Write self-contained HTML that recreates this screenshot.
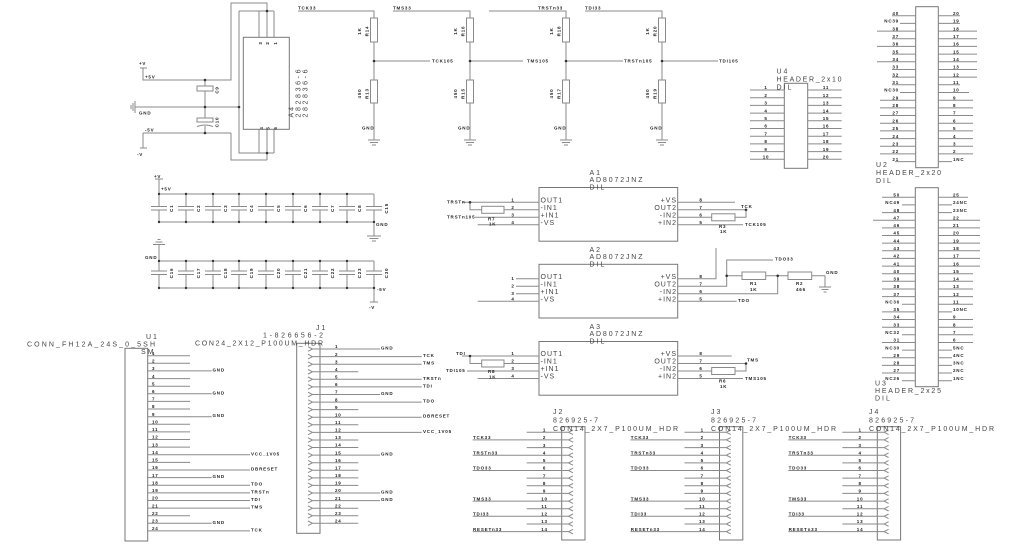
<!DOCTYPE html>
<html><head><meta charset="utf-8"><style>
body{margin:0;background:#fff}
svg{display:block}
.w{stroke:#8a8a8a;stroke-width:1;fill:none}
.k{stroke:#777;stroke-width:1;fill:none}
.d{fill:#333}
.s{font-family:"Liberation Sans",sans-serif;font-size:4.5px;font-weight:bold;fill:#222;letter-spacing:.8px}
.t{font-family:"Liberation Sans",sans-serif;font-size:7px;fill:#444;letter-spacing:2px}
.m{text-anchor:middle}
.e{text-anchor:end}
</style></head><body>
<svg width="1024" height="544" viewBox="0 0 1024 544" xmlns="http://www.w3.org/2000/svg">
<rect width="1024" height="544" fill="#fff"/>

<!-- Section 1: A4 power -->
<path class="w" d="M140,68H147M143,68V80H231V3H267V37M239,11H274M259,11V37M267,11V37M274,11V37M239,11V153H274M259,129V153M267,129V160M274,129V153M231,133V160H267M143,133H231M143,133V148M140,148H147M135,107H239M135,101V113M133,103V111M131,105V109M205,80V86M205,91V118M205,126V133M197,126.5Q205,123.5 213,126.5"/>
<rect class="w" x="197" y="86" width="16" height="5"/>
<rect class="w" x="197" y="118" width="16" height="4"/>
<rect class="k" x="243.3" y="37.3" width="46" height="92"/>
<g class="d"><circle cx="205" cy="80" r="1.3"/><circle cx="205" cy="107" r="1.3"/><circle cx="205" cy="133" r="1.3"/><circle cx="239" cy="107" r="1.3"/><circle cx="267" cy="11" r="1.3"/><circle cx="267" cy="153" r="1.3"/></g>
<g class="s">
<text x="139" y="65">+V</text><text x="145" y="78.5">+5V</text><text x="139" y="114.5">GND</text><text x="145" y="131.5">-5V</text><text x="137" y="156">-V</text>
<text class="m" transform="translate(218.5,90) rotate(-90)">C9</text>
<text class="m" transform="translate(218.5,122) rotate(-90)">C10</text>
<text class="m" transform="translate(262,43) rotate(-90)">3</text>
<text class="m" transform="translate(269,43) rotate(-90)">2</text>
<text class="m" transform="translate(277,43) rotate(-90)">1</text>
<text class="m" transform="translate(263,128) rotate(-90)">4</text>
<text class="m" transform="translate(269.5,128) rotate(-90)">5</text>
<text class="m" transform="translate(277,128) rotate(-90)">6</text>
</g>
<g class="t">
<text transform="translate(293.5,117.5) rotate(-90)">A4</text>
<text transform="translate(300.5,117.5) rotate(-90)" textLength="50">282836-6</text>
<text transform="translate(307.5,117.5) rotate(-90)" textLength="50">282836-6</text>
</g>

<!-- Section 2: resistor dividers -->
<path class="w" d="M298,11H374V18M374,42V80M374,103V140M368,140H380M370,142.5H378M372,145H376M374,61H430
M393,11H470V18M470,42V80M470,103V140M464,140H476M466,142.5H474M468,145H472M470,61H523
M489,11H566V18M566,42V80M566,103V140M560,140H572M562,142.5H570M564,145H568M566,61H623
M585,11H662V18M662,42V80M662,103V140M656,140H668M658,142.5H666M660,145H664M662,61H718"/>
<g class="w"><rect x="370.5" y="18" width="7" height="24"/><rect x="370.5" y="80" width="7" height="23"/><rect x="466.5" y="18" width="7" height="24"/><rect x="466.5" y="80" width="7" height="23"/><rect x="562.5" y="18" width="7" height="24"/><rect x="562.5" y="80" width="7" height="23"/><rect x="658.5" y="18" width="7" height="24"/><rect x="658.5" y="80" width="7" height="23"/></g>
<g class="d"><circle cx="374" cy="61" r="1.3"/><circle cx="470" cy="61" r="1.3"/><circle cx="566" cy="61" r="1.3"/><circle cx="662" cy="61" r="1.3"/></g>
<g class="s">
<text x="298" y="9.5">TCK33</text><text x="393" y="9.5">TMS33</text><text x="538" y="9.5">TRSTn33</text><text x="585" y="9.5">TDI33</text>
<text x="432" y="62.5">TCK105</text><text x="527" y="62.5">TMS105</text><text x="624" y="62.5">TRSTn105</text><text x="719" y="62.5">TDI105</text>
<text x="362" y="129.5">GND</text><text x="458" y="129.5">GND</text><text x="554" y="129.5">GND</text><text x="650" y="129.5">GND</text>
<text class="m" transform="translate(361,31) rotate(-90)">1K</text><text class="m" transform="translate(368.5,31) rotate(-90)">R14</text>
<text class="m" transform="translate(361,93.5) rotate(-90)">450</text><text class="m" transform="translate(368.5,93.5) rotate(-90)">R13</text>
<text class="m" transform="translate(457,31) rotate(-90)">1K</text><text class="m" transform="translate(464.5,31) rotate(-90)">R16</text>
<text class="m" transform="translate(457,93.5) rotate(-90)">450</text><text class="m" transform="translate(464.5,93.5) rotate(-90)">R15</text>
<text class="m" transform="translate(553,31) rotate(-90)">1K</text><text class="m" transform="translate(560.5,31) rotate(-90)">R18</text>
<text class="m" transform="translate(553,93.5) rotate(-90)">450</text><text class="m" transform="translate(560.5,93.5) rotate(-90)">R17</text>
<text class="m" transform="translate(649,31) rotate(-90)">1K</text><text class="m" transform="translate(656.5,31) rotate(-90)">R20</text>
<text class="m" transform="translate(649,93.5) rotate(-90)">450</text><text class="m" transform="translate(656.5,93.5) rotate(-90)">R19</text>
</g>

<!-- Section 3: U4 -->
<rect class="k" x="784.3" y="83.3" width="23.4" height="85"/>
<path class="w" d="M750,90H784.3M750,97.7H784.3M750,105.4H784.3M750,113.1H784.3M750,120.8H784.3M750,128.5H784.3M750,136.2H784.3M750,143.9H784.3M750,151.6H784.3M750,159.3H784.3M807.7,90H841.7M807.7,97.7H841.7M807.7,105.4H841.7M807.7,113.1H841.7M807.7,120.8H841.7M807.7,128.5H841.7M807.7,136.2H841.7M807.7,143.9H841.7M807.7,151.6H841.7M807.7,159.3H841.7"/>
<g class="s m">
<text x="766" y="89.2">1</text><text x="766" y="96.9">2</text><text x="766" y="104.6">3</text><text x="766" y="112.3">4</text><text x="766" y="120">5</text><text x="766" y="127.7">6</text><text x="766" y="135.4">7</text><text x="766" y="143.1">8</text><text x="766" y="150.8">9</text><text x="766" y="158.5">10</text>
<text x="826" y="89.2">11</text><text x="826" y="96.9">12</text><text x="826" y="104.6">13</text><text x="826" y="112.3">14</text><text x="826" y="120">15</text><text x="826" y="127.7">16</text><text x="826" y="135.4">17</text><text x="826" y="143.1">18</text><text x="826" y="150.8">19</text><text x="826" y="158.5">20</text>
</g>
<g class="t"><text x="776.5" y="73.5">U4</text><text x="776.5" y="81.5" textLength="67">HEADER_2x10</text><text x="776.5" y="89.5">DIL</text></g>

<!-- U2 -->
<rect class="k" x="915.7" y="6.7" width="22.6" height="161"/>
<path class="w" d="M892,15.7H915.7M900,23.4H915.7M877,31.1H915.7M892,38.7H915.7M877,46.4H915.7M892,54.1H915.7M877,61.8H915.7M892,69.5H915.7M892,77.1H915.7M892,84.8H915.7M900,92.5H915.7M880,100.2H915.7M880,107.9H915.7M880,115.5H915.7M880,123.2H915.7M880,130.9H915.7M880,138.6H915.7M880,146.3H915.7M880,153.9H915.7M895,161.6H915.7
M938.3,15.7H960M938.3,23.4H960M938.3,31.1H977M938.3,38.7H977M938.3,46.4H977M938.3,54.1H977M938.3,61.8H977M938.3,69.5H977M938.3,77.1H977M938.3,84.8H960M938.3,92.5H969M938.3,100.2H973M938.3,107.9H973M938.3,115.5H973M938.3,123.2H973M938.3,130.9H973M938.3,138.6H973M938.3,146.3H973M938.3,153.9H973M938.3,161.6H952"/>
<g class="s e">
<text x="899" y="14.9">40</text><text x="899" y="22.6">NC39</text><text x="899" y="30.3">38</text><text x="899" y="37.9">37</text><text x="899" y="45.6">36</text><text x="899" y="53.3">35</text><text x="899" y="61">34</text><text x="899" y="68.7">33</text><text x="899" y="76.3">32</text><text x="899" y="84">31</text><text x="899" y="91.7">NC30</text><text x="899" y="99.4">29</text><text x="899" y="107.1">28</text><text x="899" y="114.7">27</text><text x="899" y="122.4">26</text><text x="899" y="130.1">25</text><text x="899" y="137.8">24</text><text x="899" y="145.5">23</text><text x="899" y="153.1">22</text><text x="899" y="160.8">21</text>
</g>
<g class="s">
<text x="953" y="14.9">20</text><text x="953" y="22.6">19</text><text x="953" y="30.3">18</text><text x="953" y="37.9">17</text><text x="953" y="45.6">16</text><text x="953" y="53.3">15</text><text x="953" y="61">14</text><text x="953" y="68.7">13</text><text x="953" y="76.3">12</text><text x="953" y="84">11</text><text x="953" y="91.7">10</text><text x="953" y="99.4">9</text><text x="953" y="107.1">8</text><text x="953" y="114.7">7</text><text x="953" y="122.4">6</text><text x="953" y="130.1">5</text><text x="953" y="137.8">4</text><text x="953" y="145.5">3</text><text x="953" y="153.1">2</text><text x="953" y="160.8">1NC</text>
</g>
<g class="t"><text x="876" y="167">U2</text><text x="876" y="175" textLength="67">HEADER_2x20</text><text x="876" y="183">DIL</text></g>

<!-- U3 -->
<rect class="k" x="915.3" y="187.7" width="23" height="199"/>
<path class="w" d="M882,197.3H915.3M902,204.9H915.3M882,212.6H915.3M873,220.2H915.3M882,227.9H915.3M882,235.5H915.3M882,243.1H915.3M882,250.8H915.3M882,258.4H915.3M882,266.1H915.3M882,273.7H915.3M882,281.3H915.3M882,289H915.3M882,296.6H915.3M902,304.3H915.3M882,311.9H915.3M882,319.5H915.3M882,327.2H915.3M902,334.8H915.3M882,342.5H915.3M902,350.1H915.3M882,357.7H915.3M882,365.4H915.3M882,373H915.3M902,380.7H915.3
M938.3,197.3H968M938.3,204.9H952M938.3,212.6H952M938.3,220.2H980M938.3,227.9H980M938.3,235.5H980M938.3,243.1H980M938.3,250.8H980M938.3,258.4H980M938.3,266.1H980M938.3,273.7H973M938.3,281.3H973M938.3,289H973M938.3,296.6H973M938.3,304.3H973M938.3,311.9H952M938.3,319.5H973M938.3,327.2H973M938.3,334.8H973M938.3,342.5H973M938.3,350.1H952M938.3,357.7H952M938.3,365.4H952M938.3,373H952M938.3,380.7H952"/>
<g class="s e">
<text x="900" y="196.5">50</text><text x="900" y="204.1">NC49</text><text x="900" y="211.8">48</text><text x="900" y="219.4">47</text><text x="900" y="227.1">46</text><text x="900" y="234.7">45</text><text x="900" y="242.3">44</text><text x="900" y="250">43</text><text x="900" y="257.6">42</text><text x="900" y="265.3">41</text><text x="900" y="272.9">40</text><text x="900" y="280.5">39</text><text x="900" y="288.2">38</text><text x="900" y="295.8">37</text><text x="900" y="303.5">NC36</text><text x="900" y="311.1">35</text><text x="900" y="318.7">34</text><text x="900" y="326.4">33</text><text x="900" y="334">NC32</text><text x="900" y="341.7">31</text><text x="900" y="349.3">NC30</text><text x="900" y="356.9">29</text><text x="900" y="364.6">28</text><text x="900" y="372.2">27</text><text x="900" y="379.9">NC26</text>
</g>
<g class="s">
<text x="953" y="196.5">25</text><text x="953" y="204.1">24NC</text><text x="953" y="211.8">23NC</text><text x="953" y="219.4">22</text><text x="953" y="227.1">21</text><text x="953" y="234.7">20</text><text x="953" y="242.3">19</text><text x="953" y="250">18</text><text x="953" y="257.6">17</text><text x="953" y="265.3">16</text><text x="953" y="272.9">15</text><text x="953" y="280.5">14</text><text x="953" y="288.2">13</text><text x="953" y="295.8">12</text><text x="953" y="303.5">11</text><text x="953" y="311.1">10NC</text><text x="953" y="318.7">9</text><text x="953" y="326.4">8</text><text x="953" y="334">7</text><text x="953" y="341.7">6</text><text x="953" y="349.3">5NC</text><text x="953" y="356.9">4NC</text><text x="953" y="364.6">3NC</text><text x="953" y="372.2">2NC</text><text x="953" y="379.9">1NC</text>
</g>
<g class="t"><text x="875" y="385.5">U3</text><text x="875" y="393" textLength="68">HEADER_2x25</text><text x="875" y="400.5">DIL</text></g>

<!-- Section 4: decoupling caps -->
<path class="w" d="M155,179H163M159,179V194H374M159,222H374V236M367,236H381M369.5,238.5H378.5M372,241H376
M159,194V206.5M151,206.5H167M151,210H167M159,210V222
M186,194V206.5M178,206.5H194M178,210H194M186,210V222
M213,194V206.5M205,206.5H221M205,210H221M213,210V222
M239,194V206.5M231,206.5H247M231,210H247M239,210V222
M266,194V206.5M258,206.5H274M258,210H274M266,210V222
M293,194V206.5M285,206.5H301M285,210H301M293,210V222
M320,194V206.5M312,206.5H328M312,210H328M320,210V222
M347,194V206.5M339,206.5H355M339,210H355M347,210V222
M374,194V206.5M366,206.5H382M366,210H382M374,210V222
M157.5,239.5H160.5M155.5,242H162.5M153,244.5H165M159,244.5V261H374M159,288H374V302M370,302H378
M159,261V271M151,271H167M151,274.5H167M159,274.5V288
M186,261V271M178,271H194M178,274.5H194M186,274.5V288
M213,261V271M205,271H221M205,274.5H221M213,274.5V288
M239,261V271M231,271H247M231,274.5H247M239,274.5V288
M266,261V271M258,271H274M258,274.5H274M266,274.5V288
M293,261V271M285,271H301M285,274.5H301M293,274.5V288
M320,261V271M312,271H328M312,274.5H328M320,274.5V288
M347,261V271M339,271H355M339,274.5H355M347,274.5V288
M374,261V271M366,271H382M366,274.5H382M374,274.5V288"/>
<g class="d">
<circle cx="159" cy="194" r="1.2"/><circle cx="186" cy="194" r="1.2"/><circle cx="213" cy="194" r="1.2"/><circle cx="239" cy="194" r="1.2"/><circle cx="266" cy="194" r="1.2"/><circle cx="293" cy="194" r="1.2"/><circle cx="320" cy="194" r="1.2"/><circle cx="347" cy="194" r="1.2"/>
<circle cx="159" cy="222" r="1.2"/><circle cx="186" cy="222" r="1.2"/><circle cx="213" cy="222" r="1.2"/><circle cx="239" cy="222" r="1.2"/><circle cx="266" cy="222" r="1.2"/><circle cx="293" cy="222" r="1.2"/><circle cx="320" cy="222" r="1.2"/><circle cx="347" cy="222" r="1.2"/><circle cx="374" cy="222" r="1.2"/>
<circle cx="159" cy="261" r="1.2"/><circle cx="186" cy="261" r="1.2"/><circle cx="213" cy="261" r="1.2"/><circle cx="239" cy="261" r="1.2"/><circle cx="266" cy="261" r="1.2"/><circle cx="293" cy="261" r="1.2"/><circle cx="320" cy="261" r="1.2"/><circle cx="347" cy="261" r="1.2"/>
<circle cx="159" cy="288" r="1.2"/><circle cx="186" cy="288" r="1.2"/><circle cx="213" cy="288" r="1.2"/><circle cx="239" cy="288" r="1.2"/><circle cx="266" cy="288" r="1.2"/><circle cx="293" cy="288" r="1.2"/><circle cx="320" cy="288" r="1.2"/><circle cx="347" cy="288" r="1.2"/><circle cx="374" cy="288" r="1.2"/>
</g>
<g class="s">
<text x="154" y="178">+V</text><text x="161" y="190.5">+5V</text><text x="376" y="226">GND</text><text x="145" y="259">GND</text><text x="377" y="291">-5V</text><text x="369" y="309">-V</text>
<text class="m" transform="translate(173,208.3) rotate(-90)">C1</text><text class="m" transform="translate(200,208.3) rotate(-90)">C2</text><text class="m" transform="translate(227,208.3) rotate(-90)">C3</text><text class="m" transform="translate(253,208.3) rotate(-90)">C4</text><text class="m" transform="translate(280,208.3) rotate(-90)">C5</text><text class="m" transform="translate(307,208.3) rotate(-90)">C6</text><text class="m" transform="translate(334,208.3) rotate(-90)">C7</text><text class="m" transform="translate(361,208.3) rotate(-90)">C8</text><text class="m" transform="translate(388,208.3) rotate(-90)">C15</text>
<text class="m" transform="translate(173,273) rotate(-90)">C16</text><text class="m" transform="translate(200,273) rotate(-90)">C17</text><text class="m" transform="translate(227,273) rotate(-90)">C18</text><text class="m" transform="translate(253,273) rotate(-90)">C19</text><text class="m" transform="translate(280,273) rotate(-90)">C20</text><text class="m" transform="translate(307,273) rotate(-90)">C21</text><text class="m" transform="translate(334,273) rotate(-90)">C22</text><text class="m" transform="translate(361,273) rotate(-90)">C23</text><text class="m" transform="translate(388,273) rotate(-90)">C30</text>
</g>

<!-- Section 5: A1 A2 A3 -->
<g class="k"><rect x="539" y="187.5" width="138.7" height="53.7"/><rect x="539" y="264.3" width="138.7" height="53.7"/><rect x="539" y="341.5" width="138.7" height="53.7"/></g>
<path class="w" d="M462,202.3H539M470,202.3V209.8H481.7M504,209.8H539M475,217.3H539M477.7,224.8H539
M677.7,202.3H735M677.7,209.8H746V217.3H735M711.7,217.3H677.7M677.7,224.8H743
M516,278.8H539M516,286.3H539M516,293.8H539M477.7,301.3H539
M677.7,278.8H716V248M677.7,286.3H726.7V260H773M726.7,275.8H742M765.7,275.8H788M811.7,275.8H825V287M819,287H831M821.5,289.5H828.5M823.5,292H826.5M677.7,293.8H777.7V275.8M677.7,301.3H736.7
M462,356H539M470,356V363.5H481.7M504,363.5H539M467,371H539M477.7,378.5H539
M677.7,356H731.7M677.7,363.5H746V371H735M711.7,371H677.7M677.7,378.5H743"/>
<g class="w"><rect x="481.7" y="206.3" width="22.3" height="7"/><rect x="711.7" y="213.8" width="23.3" height="7"/><rect x="742" y="272" width="23.7" height="7.5"/><rect x="788" y="272" width="23.7" height="7.5"/><rect x="481.7" y="360" width="22.3" height="7"/><rect x="711.7" y="367.5" width="23.3" height="7"/></g>
<g class="d"><circle cx="470" cy="202.3" r="1.3"/><circle cx="746" cy="209.8" r="1.3"/><circle cx="726.7" cy="275.8" r="1.3"/><circle cx="777.7" cy="275.8" r="1.3"/><circle cx="470" cy="356" r="1.3"/><circle cx="746" cy="363.5" r="1.3"/></g>
<g class="t">
<text x="589.5" y="175">A1</text><text x="589.5" y="182" textLength="55">AD8072JNZ</text><text x="589.5" y="189.5">DIL</text>
<text x="589.5" y="252">A2</text><text x="589.5" y="259" textLength="55">AD8072JNZ</text><text x="589.5" y="266.3">DIL</text>
<text x="589.5" y="329">A3</text><text x="589.5" y="336" textLength="55">AD8072JNZ</text><text x="589.5" y="343.5">DIL</text>
</g>
<g class="t" style="letter-spacing:1px">
<text x="540.5" y="202.3">OUT1</text><text x="540.5" y="209.8">-IN1</text><text x="540.5" y="217.3">+IN1</text><text x="540.5" y="224.8">-VS</text>
<text class="e" x="677" y="202.3">+VS</text><text class="e" x="677" y="209.8">OUT2</text><text class="e" x="677" y="217.3">-IN2</text><text class="e" x="677" y="224.8">+IN2</text>
<text x="540.5" y="278.8">OUT1</text><text x="540.5" y="286.3">-IN1</text><text x="540.5" y="293.8">+IN1</text><text x="540.5" y="301.3">-VS</text>
<text class="e" x="677" y="278.8">+VS</text><text class="e" x="677" y="286.3">OUT2</text><text class="e" x="677" y="293.8">-IN2</text><text class="e" x="677" y="301.3">+IN2</text>
<text x="540.5" y="356">OUT1</text><text x="540.5" y="363.5">-IN1</text><text x="540.5" y="371">+IN1</text><text x="540.5" y="378.5">-VS</text>
<text class="e" x="677" y="356">+VS</text><text class="e" x="677" y="363.5">OUT2</text><text class="e" x="677" y="371">-IN2</text><text class="e" x="677" y="378.5">+IN2</text>
</g>
<g class="s">
<text class="m" x="513" y="201.5">1</text><text class="m" x="513" y="209">2</text><text class="m" x="513" y="216.5">3</text><text class="m" x="513" y="224">4</text>
<text class="m" x="701" y="201.5">8</text><text class="m" x="701" y="209">7</text><text class="m" x="701" y="216.5">6</text><text class="m" x="701" y="224">5</text>
<text class="m" x="513" y="280">1</text><text class="m" x="513" y="287.5">2</text><text class="m" x="513" y="295">3</text><text class="m" x="513" y="300.5">4</text>
<text class="m" x="701" y="278">8</text><text class="m" x="701" y="285.5">7</text><text class="m" x="701" y="293">6</text><text class="m" x="701" y="300.5">5</text>
<text class="m" x="513" y="355.2">1</text><text class="m" x="513" y="362.7">2</text><text class="m" x="513" y="370.2">3</text><text class="m" x="513" y="377.7">4</text>
<text class="m" x="701" y="355.2">8</text><text class="m" x="701" y="362.7">7</text><text class="m" x="701" y="370.2">6</text><text class="m" x="701" y="377.7">5</text>
<text x="447" y="203.5">TRSTn</text><text x="447" y="218.5">TRSTn105</text><text x="488" y="220.5">R7</text><text x="489" y="225.5">1K</text>
<text x="741" y="208">TCK</text><text x="745" y="226">TCK105</text><text x="719" y="228">R3</text><text x="720" y="233">1K</text>
<text x="775" y="260.5">TDO33</text><text x="826" y="274">GND</text><text x="750" y="285">R1</text><text x="750" y="291">1K</text><text x="796" y="285">R2</text><text x="796" y="291">466</text><text x="738" y="302">TDO</text>
<text x="456" y="355">TDI</text><text x="446" y="372">TDI105</text><text x="488" y="373">R8</text><text x="489" y="378.5">1K</text>
<text x="747" y="361.5">TMS</text><text x="745" y="380">TMS105</text><text x="719" y="382.5">R6</text><text x="720" y="388">1K</text>
</g>

<!-- Section 6: U1 -->
<rect class="k" x="125" y="348.3" width="22.7" height="192.7"/>
<path class="w" d="M147.7,355.7H190M147.7,363.3H190M147.7,370.9H211.7M147.7,378.6H190M147.7,386.2H190M147.7,393.8H211.7M147.7,401.4H190M147.7,409H190M147.7,416.7H211.7M147.7,424.3H190M147.7,431.9H190M147.7,439.5H190M147.7,447.1H190M147.7,454.8H250M147.7,462.4H190M147.7,470H250M147.7,477.6H211.7M147.7,485.2H250M147.7,492.9H250M147.7,500.5H250M147.7,508.1H250M147.7,515.7H190M147.7,523.3H211.7M147.7,530.9H250"/>
<g class="s">
<text x="152" y="354.9">1</text><text x="152" y="362.5">2</text><text x="152" y="370.1">3</text><text x="152" y="377.8">4</text><text x="152" y="385.4">5</text><text x="152" y="393">6</text><text x="152" y="400.6">7</text><text x="152" y="408.2">8</text><text x="152" y="415.9">9</text><text x="152" y="423.5">10</text><text x="152" y="431.1">11</text><text x="152" y="438.7">12</text><text x="152" y="446.3">13</text><text x="152" y="454">14</text><text x="152" y="461.6">15</text><text x="152" y="469.2">16</text><text x="152" y="476.8">17</text><text x="152" y="484.4">18</text><text x="152" y="492.1">19</text><text x="152" y="499.7">20</text><text x="152" y="507.3">21</text><text x="152" y="514.9">22</text><text x="152" y="522.5">23</text><text x="152" y="530.1">24</text>
<text x="212.5" y="371.4">GND</text><text x="212.5" y="394.3">GND</text><text x="212.5" y="417.2">GND</text><text x="212.5" y="478.1">GND</text><text x="212.5" y="523.8">GND</text>
<text x="251" y="455.3">VCC_1V05</text><text x="251" y="470.5">DBRESET</text><text x="251" y="485.7">TDO</text><text x="251" y="493.4">TRSTn</text><text x="251" y="501">TDI</text><text x="251" y="508.6">TMS</text><text x="251" y="531.4">TCK</text>
</g>
<g class="t"><text x="146" y="339">U1</text><text x="27" y="346.5" textLength="130">CONN_FH12A_24S_0_5SH</text><text x="141" y="354">SM</text></g>

<!-- Section 7: J1 -->
<rect class="k" x="296.7" y="343.3" width="23.3" height="190"/>
<path class="w" d="M308,346.7L312.5,349L308,351.3M312.5,349H380
M308,354.3L312.5,356.6L308,358.9M312.5,356.6H421.7
M308,361.9L312.5,364.2L308,366.5M312.5,364.2H421.7
M308,369.4L312.5,371.7L308,374M312.5,371.7H358.3
M308,377L312.5,379.3L308,381.6M312.5,379.3H421.7
M308,384.6L312.5,386.9L308,389.2M312.5,386.9H421.7
M308,392.2L312.5,394.5L308,396.8M312.5,394.5H380
M308,399.8L312.5,402.1L308,404.4M312.5,402.1H421.7
M308,407.3L312.5,409.6L308,411.9M312.5,409.6H358.3
M308,414.9L312.5,417.2L308,419.5M312.5,417.2H421.7
M308,422.5L312.5,424.8L308,427.1M312.5,424.8H358.3
M308,430.1L312.5,432.4L308,434.7M312.5,432.4H421.7
M308,437.7L312.5,440L308,442.3M312.5,440H358.3
M308,445.2L312.5,447.5L308,449.8M312.5,447.5H358.3
M308,452.8L312.5,455.1L308,457.4M312.5,455.1H380
M308,460.4L312.5,462.7L308,465M312.5,462.7H358.3
M308,468L312.5,470.3L308,472.6M312.5,470.3H358.3
M308,475.6L312.5,477.9L308,480.2M312.5,477.9H358.3
M308,483.1L312.5,485.4L308,487.7M312.5,485.4H358.3
M308,490.7L312.5,493L308,495.3M312.5,493H380
M308,498.3L312.5,500.6L308,502.9M312.5,500.6H380
M308,505.9L312.5,508.2L308,510.5M312.5,508.2H358.3
M308,513.5L312.5,515.8L308,518.1M312.5,515.8H358.3
M308,521L312.5,523.3L308,525.6M312.5,523.3H358.3"/>
<g class="s">
<text x="335" y="348.2">1</text><text x="335" y="355.8">2</text><text x="335" y="363.4">3</text><text x="335" y="370.9">4</text><text x="335" y="378.5">5</text><text x="335" y="386.1">6</text><text x="335" y="393.7">7</text><text x="335" y="401.3">8</text><text x="335" y="408.8">9</text><text x="335" y="416.4">10</text><text x="335" y="424">11</text><text x="335" y="431.6">12</text><text x="335" y="439.2">13</text><text x="335" y="446.7">14</text><text x="335" y="454.3">15</text><text x="335" y="461.9">16</text><text x="335" y="469.5">17</text><text x="335" y="477.1">18</text><text x="335" y="484.6">19</text><text x="335" y="492.2">20</text><text x="335" y="499.8">21</text><text x="335" y="507.4">22</text><text x="335" y="515">23</text><text x="335" y="522.5">24</text>
<text x="381" y="349.5">GND</text><text x="381" y="395">GND</text><text x="381" y="455.6">GND</text><text x="381" y="493.5">GND</text><text x="381" y="501.1">GND</text>
<text x="423" y="357.1">TCK</text><text x="423" y="364.7">TMS</text><text x="423" y="379.8">TRSTn</text><text x="423" y="387.4">TDI</text><text x="423" y="402.6">TDO</text><text x="423" y="417.7">DBRESET</text><text x="423" y="432.9">VCC_1V05</text>
</g>
<g class="t"><text x="316" y="330">J1</text><text x="263" y="337.5" textLength="62">1-826656-2</text><text x="195" y="345.5" textLength="130">CON24_2X12_P100UM_HDR</text></g>

<!-- Section 8: J2 J3 J4 -->
<g class="k"><rect x="561.7" y="426.7" width="23.3" height="113.3"/><rect x="719.5" y="426.7" width="23.3" height="113.3"/><rect x="877.3" y="426.7" width="23.3" height="113.3"/></g>
<path class="w" d="M526.7,432.3H568.5M472.7,439.9H568.5M526.7,447.6H568.5M472.7,455.2H568.5M526.7,462.9H568.5M472.7,470.5H568.5M526.7,478.1H568.5M526.7,485.8H568.5M526.7,493.4H568.5M472.7,501.1H568.5M526.7,508.7H568.5M472.7,516.3H568.5M526.7,524H568.5M472.7,531.6H568.5
M573,430L568.5,432.3L573,434.6M573,437.6L568.5,439.9L573,442.2M573,445.3L568.5,447.6L573,449.9M573,452.9L568.5,455.2L573,457.5M573,460.6L568.5,462.9L573,465.2M573,468.2L568.5,470.5L573,472.8M573,475.8L568.5,478.1L573,480.4M573,483.5L568.5,485.8L573,488.1M573,491.1L568.5,493.4L573,495.7M573,498.8L568.5,501.1L573,503.4M573,506.4L568.5,508.7L573,511M573,514L568.5,516.3L573,518.6M573,521.7L568.5,524L573,526.3M573,529.3L568.5,531.6L573,533.9"/>
<path class="w" transform="translate(157.8,0)" d="M526.7,432.3H568.5M472.7,439.9H568.5M526.7,447.6H568.5M472.7,455.2H568.5M526.7,462.9H568.5M472.7,470.5H568.5M526.7,478.1H568.5M526.7,485.8H568.5M526.7,493.4H568.5M472.7,501.1H568.5M526.7,508.7H568.5M472.7,516.3H568.5M526.7,524H568.5M472.7,531.6H568.5
M573,430L568.5,432.3L573,434.6M573,437.6L568.5,439.9L573,442.2M573,445.3L568.5,447.6L573,449.9M573,452.9L568.5,455.2L573,457.5M573,460.6L568.5,462.9L573,465.2M573,468.2L568.5,470.5L573,472.8M573,475.8L568.5,478.1L573,480.4M573,483.5L568.5,485.8L573,488.1M573,491.1L568.5,493.4L573,495.7M573,498.8L568.5,501.1L573,503.4M573,506.4L568.5,508.7L573,511M573,514L568.5,516.3L573,518.6M573,521.7L568.5,524L573,526.3M573,529.3L568.5,531.6L573,533.9"/>
<path class="w" transform="translate(315.6,0)" d="M526.7,432.3H568.5M472.7,439.9H568.5M526.7,447.6H568.5M472.7,455.2H568.5M526.7,462.9H568.5M472.7,470.5H568.5M526.7,478.1H568.5M526.7,485.8H568.5M526.7,493.4H568.5M472.7,501.1H568.5M526.7,508.7H568.5M472.7,516.3H568.5M526.7,524H568.5M472.7,531.6H568.5
M573,430L568.5,432.3L573,434.6M573,437.6L568.5,439.9L573,442.2M573,445.3L568.5,447.6L573,449.9M573,452.9L568.5,455.2L573,457.5M573,460.6L568.5,462.9L573,465.2M573,468.2L568.5,470.5L573,472.8M573,475.8L568.5,478.1L573,480.4M573,483.5L568.5,485.8L573,488.1M573,491.1L568.5,493.4L573,495.7M573,498.8L568.5,501.1L573,503.4M573,506.4L568.5,508.7L573,511M573,514L568.5,516.3L573,518.6M573,521.7L568.5,524L573,526.3M573,529.3L568.5,531.6L573,533.9"/>
<g class="s">
<g class="m"><text x="544.5" y="431.5">1</text><text x="544.5" y="439.1">2</text><text x="544.5" y="446.8">3</text><text x="544.5" y="454.4">4</text><text x="544.5" y="462.1">5</text><text x="544.5" y="469.7">6</text><text x="544.5" y="477.3">7</text><text x="544.5" y="485">8</text><text x="544.5" y="492.6">9</text><text x="544.5" y="500.3">10</text><text x="544.5" y="507.9">11</text><text x="544.5" y="515.5">12</text><text x="544.5" y="523.2">13</text><text x="544.5" y="530.8">14</text></g>
<text x="473" y="439.1">TCK33</text><text x="473" y="454.4">TRSTn33</text><text x="473" y="469.7">TDO33</text><text x="473" y="500.3">TMS33</text><text x="473" y="515.5">TDI33</text><text x="473" y="530.8">RESETn33</text>
<g class="m"><text x="702.3" y="431.5">1</text><text x="702.3" y="439.1">2</text><text x="702.3" y="446.8">3</text><text x="702.3" y="454.4">4</text><text x="702.3" y="462.1">5</text><text x="702.3" y="469.7">6</text><text x="702.3" y="477.3">7</text><text x="702.3" y="485">8</text><text x="702.3" y="492.6">9</text><text x="702.3" y="500.3">10</text><text x="702.3" y="507.9">11</text><text x="702.3" y="515.5">12</text><text x="702.3" y="523.2">13</text><text x="702.3" y="530.8">14</text></g>
<text x="630.8" y="439.1">TCK33</text><text x="630.8" y="454.4">TRSTn33</text><text x="630.8" y="469.7">TDO33</text><text x="630.8" y="500.3">TMS33</text><text x="630.8" y="515.5">TDI33</text><text x="630.8" y="530.8">RESETn33</text>
<g class="m"><text x="860.1" y="431.5">1</text><text x="860.1" y="439.1">2</text><text x="860.1" y="446.8">3</text><text x="860.1" y="454.4">4</text><text x="860.1" y="462.1">5</text><text x="860.1" y="469.7">6</text><text x="860.1" y="477.3">7</text><text x="860.1" y="485">8</text><text x="860.1" y="492.6">9</text><text x="860.1" y="500.3">10</text><text x="860.1" y="507.9">11</text><text x="860.1" y="515.5">12</text><text x="860.1" y="523.2">13</text><text x="860.1" y="530.8">14</text></g>
<text x="788.6" y="439.1">TCK33</text><text x="788.6" y="454.4">TRSTn33</text><text x="788.6" y="469.7">TDO33</text><text x="788.6" y="500.3">TMS33</text><text x="788.6" y="515.5">TDI33</text><text x="788.6" y="530.8">RESETn33</text>
</g>
<g class="t">
<text x="553" y="414">J2</text><text x="553" y="422.5" textLength="47">826925-7</text><text x="553" y="431" textLength="127">CON14_2X7_P100UM_HDR</text>
<text x="711" y="414">J3</text><text x="711" y="422.5" textLength="47">826925-7</text><text x="711" y="431" textLength="127">CON14_2X7_P100UM_HDR</text>
<text x="869" y="414">J4</text><text x="869" y="422.5" textLength="47">826925-7</text><text x="869" y="431" textLength="127">CON14_2X7_P100UM_HDR</text>
</g>
</svg>
</body></html>
